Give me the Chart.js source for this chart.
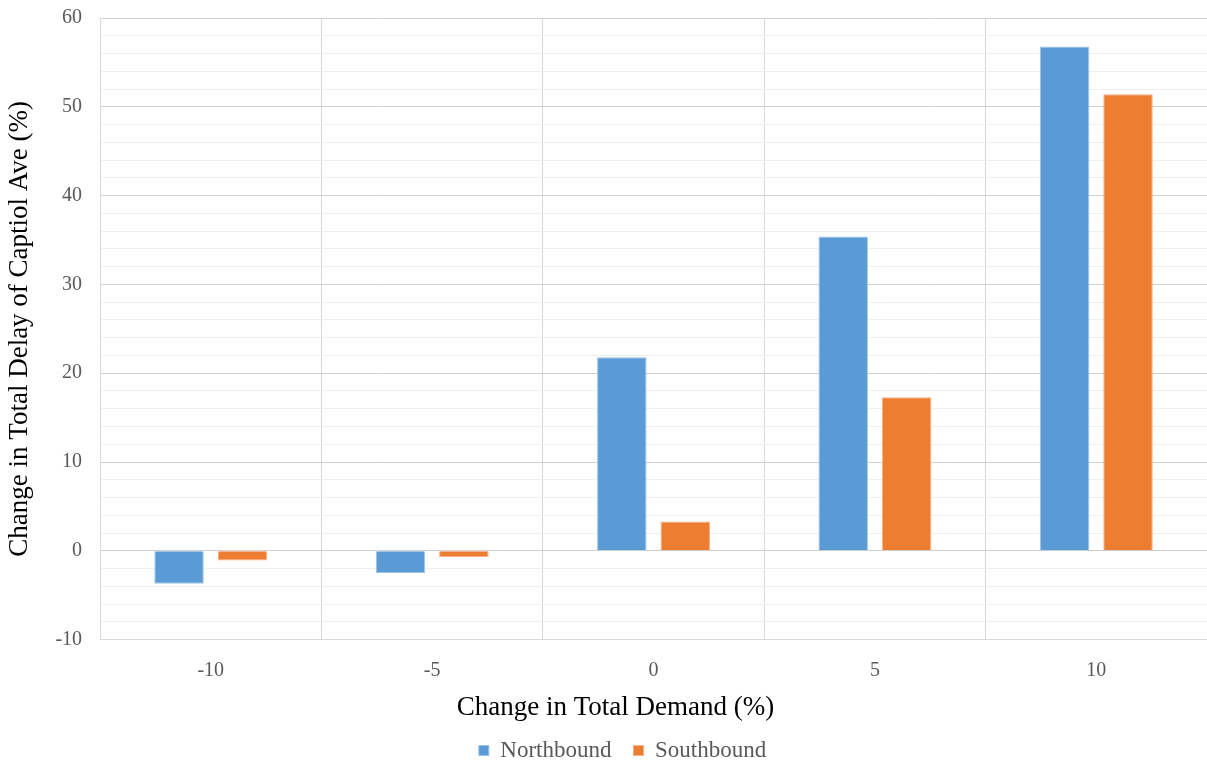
<!DOCTYPE html>
<html>
<head>
<meta charset="utf-8">
<script src="https://cdn.jsdelivr.net/npm/chart.js@4/dist/chart.umd.min.js"></script>
<style>
  html, body { margin: 0; padding: 0; background: #ffffff; }
  #wrap { width: 1207px; height: 765px; }
</style>
</head>
<body>
<div id="wrap"><canvas id="c" width="1207" height="765"></canvas></div>
<script>
// Demand scenarios (% change in total demand)
const categories = ['-10', '-5', '0', '5', '10'];
// Change in total delay (%) by direction
const northbound = [-3.7, -2.5, 21.8, 35.4, 56.8];
const southbound = [-1.1, -0.7, 3.3, 17.3, 51.4];
const yTicks = [-10, 0, 10, 20, 30, 40, 50, 60];

const serif = '"Liberation Serif", "Times New Roman", serif';
const clear = 'rgba(0,0,0,0)';

// Nudge the bottom title and legend a little to the right of the canvas centre
const shiftBottomBoxes = {
  id: 'shiftBottomBoxes',
  afterLayout(chart, args, opts) {
    const moves = [[chart.titleBlock, opts.titleDx || 0], [chart.legend, opts.legendDx || 0]];
    moves.forEach(([b, dx]) => {
      if (b) { b.left += dx; b.right += dx; }
    });
  }
};

new Chart(document.getElementById('c'), {
  type: 'bar',
  data: {
    labels: categories,
    datasets: [
      {
        label: 'Northbound',
        data: northbound,
        backgroundColor: '#5b9bd5',
        borderColor: '#9cc3e6',
        borderWidth: 1,
        categoryPercentage: 0.573,
        barPercentage: 0.78
      },
      {
        label: 'Southbound',
        data: southbound,
        backgroundColor: '#ed7d31',
        borderColor: '#f4b183',
        borderWidth: 1,
        categoryPercentage: 0.573,
        barPercentage: 0.78
      }
    ]
  },
  plugins: [shiftBottomBoxes],
  options: {
    responsive: false,
    animation: false,
    layout: { padding: { top: 0, right: 0, bottom: -7, left: 0 } },
    plugins: {
      tooltip: { enabled: false },
      shiftBottomBoxes: { titleDx: 12, legendDx: 19 },
      title: {
        display: true,
        position: 'bottom',
        weight: 500,
        text: 'Change in Total Demand (%)',
        font: { family: serif, size: 27, weight: 'normal' },
        color: '#000000',
        padding: { top: 7, bottom: -7 }
      },
      legend: {
        position: 'bottom',
        labels: {
          font: { family: serif, size: 23 },
          color: '#595959',
          boxWidth: 10,
          boxHeight: 10,
          padding: 22,
          useBorderRadius: false
        }
      }
    },
    scales: {
      x: {
        grid: {
          offset: true,
          color: '#d9d9d9',
          lineWidth: 1,
          drawTicks: true,
          tickLength: 17,
          tickColor: clear
        },
        border: { color: '#d9d9d9' },
        ticks: {
          font: { family: serif, size: 20 },
          color: '#595959',
          padding: 2
        }
      },
      y: {
        min: -10,
        max: 60,
        grid: {
          drawTicks: true,
          tickLength: 12,
          tickColor: clear,
          color: (ctx) => (ctx.tick && yTicks.includes(ctx.tick.value)) ? '#d0d0d0' : '#efefef',
          lineWidth: 1
        },
        border: { color: '#d9d9d9' },
        ticks: {
          stepSize: 2,
          autoSkip: false,
          font: { family: serif, size: 20 },
          color: '#595959',
          padding: 6,
          callback: (v) => yTicks.includes(v) ? String(v) : ''
        },
        title: {
          display: true,
          text: 'Change in Total Delay of Captiol Ave (%)',
          font: { family: serif, size: 27 },
          color: '#000000',
          padding: { top: 4, bottom: 13 }
        }
      }
    }
  }
});
</script>
</body>
</html>
